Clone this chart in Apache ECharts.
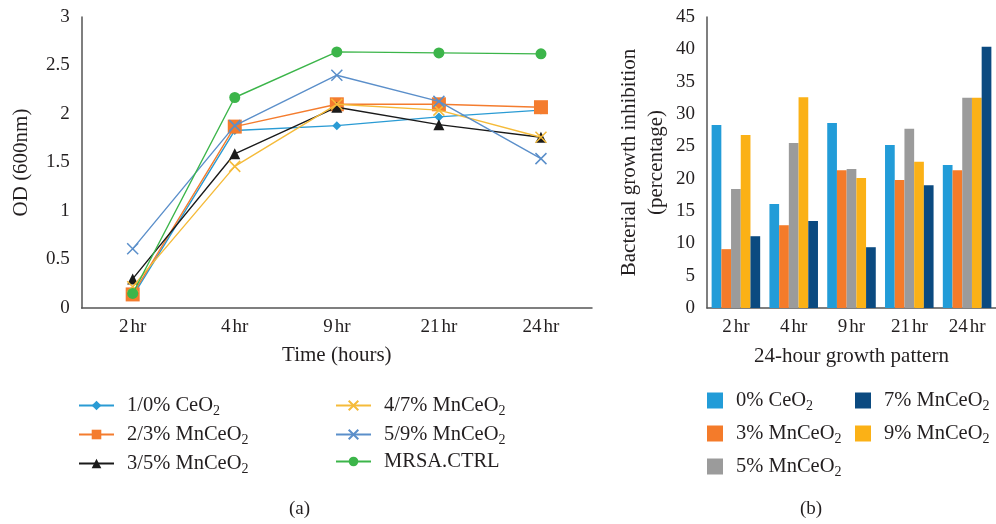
<!DOCTYPE html>
<html><head><meta charset="utf-8">
<script src="https://cdn.jsdelivr.net/npm/echarts@6/dist/echarts.min.js"></script>
<style>html,body{margin:0;padding:0;background:#fff}#c{width:996px;height:524px}</style>
</head><body><div id="c"></div>
<script>
const categories = ['2 hr', '4 hr', '9 hr', '21 hr', '24 hr'];
const odNames = ['1/0% CeO2', '2/3% MnCeO2', '3/5% MnCeO2', '4/7% MnCeO2', '5/9% MnCeO2', 'MRSA.CTRL'];
const odCeO2 = [0.12, 1.83, 1.88, 1.97, 2.04];
const odMn3 = [0.14, 1.87, 2.10, 2.10, 2.07];
const odMn5 = [0.30, 1.59, 2.07, 1.89, 1.76];
const odMn7 = [0.22, 1.46, 2.10, 2.04, 1.76];
const odMn9 = [0.61, 1.88, 2.40, 2.13, 1.54];
const odCtrl = [0.15, 2.17, 2.64, 2.63, 2.62];
const odTicks = [0, 0.5, 1, 1.5, 2, 2.5, 3];

const inhNames = ['0% CeO2', '3% MnCeO2', '5% MnCeO2', '7% MnCeO2', '9% MnCeO2'];
const inhCeO2 = [28.3, 16.1, 28.6, 25.2, 22.1];
const inhMn3 = [9.1, 12.8, 21.3, 19.8, 21.3];
const inhMn5 = [18.4, 25.5, 21.5, 27.7, 32.5];
const inhMn7 = [11.1, 13.45, 9.4, 19.0, 40.4];
const inhMn9 = [26.75, 32.6, 20.1, 22.6, 32.5];

const FONT = 'Liberation Serif';
const TXT = '#231f20';
const AX = '#555555';
const xPath = 'path://M0,0L10,10M10,0L0,10';

function subFmt(name) {
  if (/O2$/.test(name)) return '{a|' + name.slice(0, -1) + '}{b|2}';
  return '{a|' + name + '}';
}
const rich = {
  a: {fontFamily: FONT, fontSize: 20.5, color: TXT, lineHeight: 24, padding: [0, 0, 0, 8]},
  b: {fontFamily: FONT, fontSize: 14, color: TXT, lineHeight: 24, padding: [11, 0, 0, 0]}
};

const lineStyles = [
  {color: '#2a9bd4', symbol: 'diamond', size: 9},
  {color: '#f47c2e', symbol: 'rect', size: 14},
  {color: '#1a1a1a', symbol: 'triangle', size: 11},
  {color: '#f5bb3a', symbol: xPath, size: 11, stroke: true},
  {color: '#5b8fca', symbol: xPath, size: 11, stroke: true},
  {color: '#3cb54a', symbol: 'circle', size: 11}
];
const lineData = [odCeO2, odMn3, odMn5, odMn7, odMn9, odCtrl];
const barColors = ['#229cd8', '#f47b2a', '#9b9b9b', '#0b4a80', '#fbb116'];
const barData = [inhCeO2, inhMn3, inhMn5, inhMn7, inhMn9];

const series = [];
lineData.forEach((d, i) => {
  const s = lineStyles[i];
  series.push({
    name: odNames[i], type: 'line', xAxisIndex: 0, yAxisIndex: 0, data: d,
    symbol: s.symbol, symbolSize: s.size, showAllSymbol: true,
    lineStyle: {color: s.color, width: 1.4},
    itemStyle: s.stroke ? {color: s.color, borderColor: s.color, borderWidth: 1.5} : {color: s.color, borderWidth: 0},
    emphasis: {disabled: true}, animation: false, z: 2 + i
  });
});
barData.forEach((d, i) => {
  series.push({
    name: inhNames[i], type: 'bar', xAxisIndex: 1, yAxisIndex: 1, data: d,
    barGap: '0%', barCategoryGap: '16%',
    itemStyle: {color: barColors[i]}, emphasis: {disabled: true}, animation: false
  });
});
// bar order in the chart: 0%,3%,5%,9%,7%
const barOrder = [0, 1, 2, 4, 3];
const orderedBars = barOrder.map(k => series[6 + k]);
series.splice(6, 5, ...orderedBars);

const tickFmt = v => { const p = v.split(' '); return '{n|' + p[0] + '}{u|' + p[1] + '}'; };
const tickRich = {
  n: {fontFamily: FONT, fontSize: 19, color: TXT},
  u: {fontFamily: FONT, fontSize: 19, color: TXT, padding: [0, 0, 0, 2]}
};
const axisLabel = {fontFamily: FONT, fontSize: 19, color: TXT, formatter: tickFmt, rich: tickRich, interval: 0, hideOverlap: false};
const yLabel = {fontFamily: FONT, fontSize: 19, color: TXT};
const nameStyle = {fontFamily: FONT, fontSize: 21, color: TXT, lineHeight: 27};

const option = {
  backgroundColor: '#fff',
  animation: false,
  grid: [
    {left: 78, top: 17, width: 514, height: 291},
    {left: 707, top: 17, width: 291, height: 291}
  ],
  xAxis: [
    {type: 'category', gridIndex: 0, data: categories, boundaryGap: true,
     axisLine: {lineStyle: {color: AX, width: 1.5}}, axisTick: {show: false},
     axisLabel: Object.assign({margin: 10}, axisLabel),
     name: 'Time (hours)', nameLocation: 'middle', nameGap: 33, nameTextStyle: nameStyle},
    {type: 'category', gridIndex: 1, data: categories, boundaryGap: true,
     axisLine: {lineStyle: {color: AX, width: 1.5}}, axisTick: {show: false},
     axisLabel: Object.assign({margin: 10}, axisLabel),
     name: '24-hour growth pattern', nameLocation: 'middle', nameGap: 35, nameTextStyle: nameStyle}
  ],
  yAxis: [
    {type: 'value', gridIndex: 0, min: odTicks[0], max: odTicks[odTicks.length - 1], interval: 0.5,
     splitLine: {show: false}, axisTick: {show: false},
     axisLine: {show: true, lineStyle: {color: AX, width: 1.5}},
     axisLabel: Object.assign({margin: 12}, yLabel),
     name: 'OD (600nm)', nameLocation: 'middle', nameGap: 46, nameRotate: 90, nameTextStyle: nameStyle},
    {type: 'value', gridIndex: 1, min: 0, max: 45, interval: 5,
     splitLine: {show: false}, axisTick: {show: false},
     axisLine: {show: true, lineStyle: {color: AX, width: 1.5}},
     axisLabel: Object.assign({margin: 12}, yLabel),
     name: 'Bacterial growth inhibition\n(percentage)', nameLocation: 'middle', nameGap: 37, nameRotate: 90, nameTextStyle: nameStyle}
  ],
  legend: [
    {data: odNames.slice(0, 3), orient: 'vertical', left: 78, top: 393, padding: 0, itemWidth: 35, itemHeight: 12, itemGap: 4,
     formatter: subFmt, textStyle: {rich: rich}, selectedMode: false},
    {data: odNames.slice(3), orient: 'vertical', left: 335, top: 393, padding: 0, itemWidth: 35, itemHeight: 12, itemGap: 4,
     formatter: subFmt, textStyle: {rich: rich}, selectedMode: false},
    {data: [inhNames[0], inhNames[1], inhNames[2]], orient: 'vertical', left: 707, top: 388, padding: 0, itemWidth: 16, itemHeight: 16, itemGap: 8,
     icon: 'rect', formatter: subFmt, textStyle: {rich: rich}, selectedMode: false},
    {data: [inhNames[3], inhNames[4]], orient: 'vertical', left: 855, top: 388, padding: 0, itemWidth: 16, itemHeight: 16, itemGap: 8,
     icon: 'rect', formatter: subFmt, textStyle: {rich: rich}, selectedMode: false}
  ],
  graphic: [
    {type: 'text', left: 289, top: 500, style: {text: '(a)', font: '19px "Liberation Serif"', fill: TXT}},
    {type: 'text', left: 800, top: 500, style: {text: '(b)', font: '19px "Liberation Serif"', fill: TXT}}
  ],
  series: series
};
const chart = echarts.init(document.getElementById('c'), null, {renderer: 'canvas'});
chart.setOption(option);
</script>
</body></html>
